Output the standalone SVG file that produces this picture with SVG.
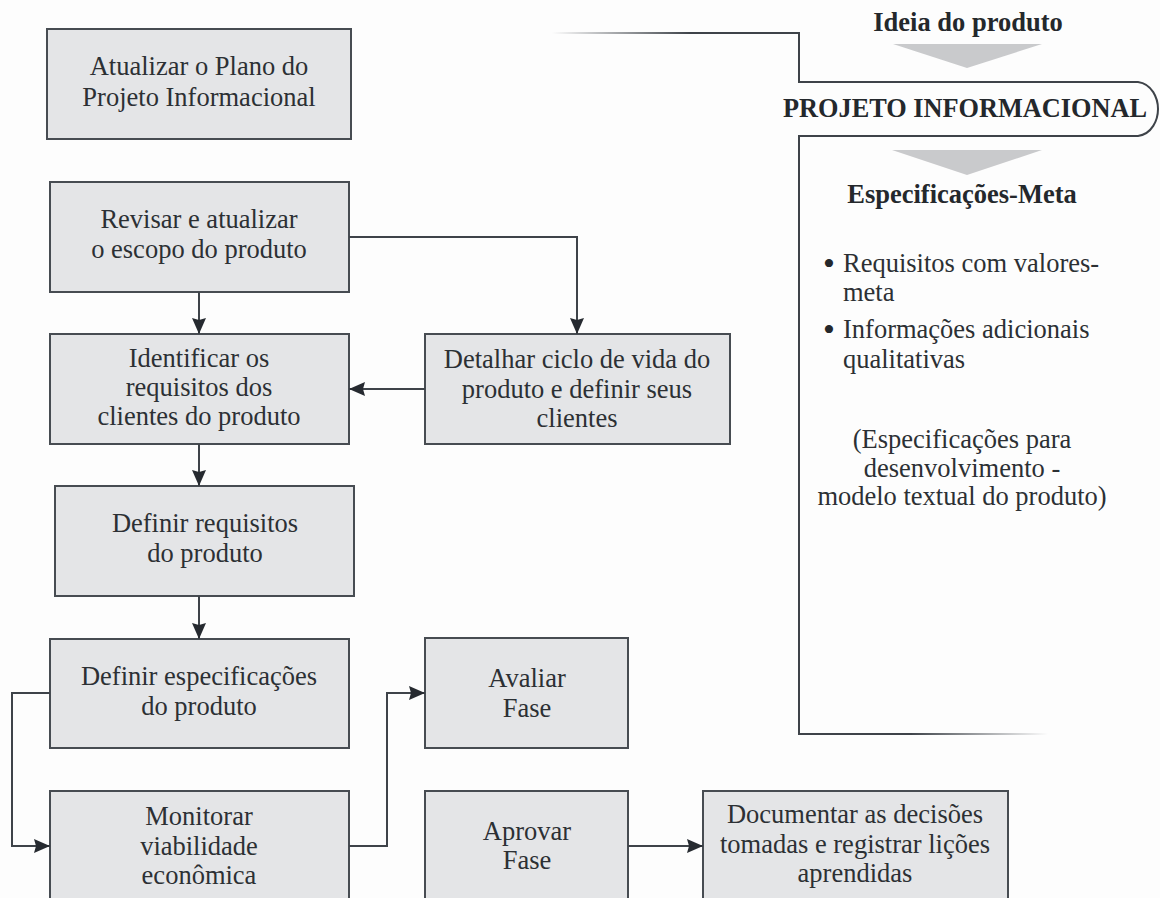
<svg xmlns="http://www.w3.org/2000/svg" width="1160" height="898" viewBox="0 0 1160 898">
  <style>
    .box { fill: #e4e5e7; stroke: #474c52; stroke-width: 2; }
    .t { font-family: "Liberation Serif", "Times New Roman", serif; font-size: 26.5px; fill: #2c3034; text-anchor: middle; }
    .tl { font-family: "Liberation Serif", "Times New Roman", serif; font-size: 26.5px; fill: #2c3034; }
    .dot { font-family: "Liberation Serif", "Times New Roman", serif; font-size: 34px; fill: #24282c; }
    .b { font-family: "Liberation Serif", "Times New Roman", serif; font-size: 26.5px; font-weight: bold; fill: #24282c; text-anchor: middle; }
    .ln { fill: none; stroke: #3e4349; stroke-width: 2; }
    .wedge { fill: #c9cacc; }
  </style>
  <defs>
    <marker id="arrow" markerUnits="userSpaceOnUse" markerWidth="17" markerHeight="14" refX="16" refY="7" orient="auto">
      <path d="M0,0 L16,7 L0,14 L2,7 z" fill="#262a30"/>
    </marker>
    <linearGradient id="fadeIn" gradientUnits="userSpaceOnUse" x1="552" y1="0" x2="690" y2="0">
      <stop offset="0" stop-color="#3e4349" stop-opacity="0"/>
      <stop offset="1" stop-color="#3e4349" stop-opacity="1"/>
    </linearGradient>
    <linearGradient id="fadeOut" gradientUnits="userSpaceOnUse" x1="910" y1="0" x2="1048" y2="0">
      <stop offset="0" stop-color="#3e4349" stop-opacity="1"/>
      <stop offset="1" stop-color="#3e4349" stop-opacity="0"/>
    </linearGradient>
  </defs>

  <rect width="1160" height="898" fill="#fdfdfd"/>

  <!-- phase frame on the right -->
  <g id="phase-frame">
    <line x1="552" y1="33" x2="700" y2="33" stroke="url(#fadeIn)" stroke-width="2"/>
    <path class="ln" d="M699 33 H799 V82 H1138 C1152 84 1158 98 1158 109 C1158 120 1152 134 1138 136 H799 V734 H912"/>
    <line x1="910" y1="734" x2="1048" y2="734" stroke="url(#fadeOut)" stroke-width="2"/>
    <text class="b" x="968" y="31">Ideia do produto</text>
    <polygon class="wedge" points="893,44 1042,44 967,68"/>
    <text class="b" x="965" y="117" textLength="364" lengthAdjust="spacingAndGlyphs">PROJETO INFORMACIONAL</text>
    <polygon class="wedge" points="892,150 1042,150 967,175"/>
    <text class="b" x="962" y="203">Especificações-Meta</text>
    <text class="dot" x="823" y="275">•</text>
    <text class="tl" x="843" y="272">Requisitos com valores-</text>
    <text class="tl" x="843" y="301">meta</text>
    <text class="dot" x="823" y="341">•</text>
    <text class="tl" x="843" y="338">Informações adicionais</text>
    <text class="tl" x="843" y="368">qualitativas</text>
    <text class="t" x="962" y="448">(Especificações para</text>
    <text class="t" x="962" y="477">desenvolvimento -</text>
    <text class="t" x="962" y="505">modelo textual do produto)</text>
  </g>

  <!-- activities -->
  <g id="atualizar-plano">
    <rect class="box" x="47" y="29" width="304" height="110"/>
    <text class="t" x="199" y="75">Atualizar o Plano do</text>
    <text class="t" x="199" y="106">Projeto Informacional</text>
  </g>
  <g id="revisar-escopo">
    <rect class="box" x="50" y="182" width="299" height="110"/>
    <text class="t" x="199" y="228">Revisar e atualizar</text>
    <text class="t" x="199" y="258">o escopo do produto</text>
  </g>
  <g id="identificar-requisitos">
    <rect class="box" x="50" y="334" width="299" height="110"/>
    <text class="t" x="199" y="367">Identificar os</text>
    <text class="t" x="199" y="396">requisitos dos</text>
    <text class="t" x="199" y="425">clientes do produto</text>
  </g>
  <g id="detalhar-ciclo">
    <rect class="box" x="425" y="334" width="305" height="110"/>
    <text class="t" x="577" y="368">Detalhar ciclo de vida do</text>
    <text class="t" x="577" y="398">produto e definir seus</text>
    <text class="t" x="577" y="427">clientes</text>
  </g>
  <g id="definir-requisitos">
    <rect class="box" x="55" y="486" width="299" height="110"/>
    <text class="t" x="205" y="532">Definir requisitos</text>
    <text class="t" x="205" y="562">do produto</text>
  </g>
  <g id="definir-especificacoes">
    <rect class="box" x="50" y="639" width="299" height="109"/>
    <text class="t" x="199" y="685">Definir especificações</text>
    <text class="t" x="199" y="715">do produto</text>
  </g>
  <g id="monitorar-viabilidade">
    <rect class="box" x="50" y="791" width="299" height="130"/>
    <text class="t" x="199" y="825">Monitorar</text>
    <text class="t" x="199" y="855">viabilidade</text>
    <text class="t" x="199" y="884">econômica</text>
  </g>
  <g id="avaliar-fase">
    <rect class="box" x="425" y="638" width="203" height="110"/>
    <text class="t" x="527" y="687">Avaliar</text>
    <text class="t" x="527" y="717">Fase</text>
  </g>
  <g id="aprovar-fase">
    <rect class="box" x="425" y="791" width="203" height="130"/>
    <text class="t" x="527" y="840">Aprovar</text>
    <text class="t" x="527" y="869">Fase</text>
  </g>
  <g id="documentar-decisoes">
    <rect class="box" x="703" y="791" width="305" height="130"/>
    <text class="t" x="855" y="823">Documentar as decisões</text>
    <text class="t" x="855" y="853">tomadas e registrar lições</text>
    <text class="t" x="855" y="882">aprendidas</text>
  </g>

  <!-- connectors -->
  <g id="connectors" class="ln" marker-end="url(#arrow)">
    <path d="M199 292 V334"/>
    <path d="M349 237 H577 V334"/>
    <path d="M425 389 H349"/>
    <path d="M199 444 V486"/>
    <path d="M199 596 V639"/>
    <path d="M50 693 H12 V846 H50"/>
    <path d="M349 846 H387 V693 H425"/>
    <path d="M628 846 H703"/>
  </g>
</svg>
